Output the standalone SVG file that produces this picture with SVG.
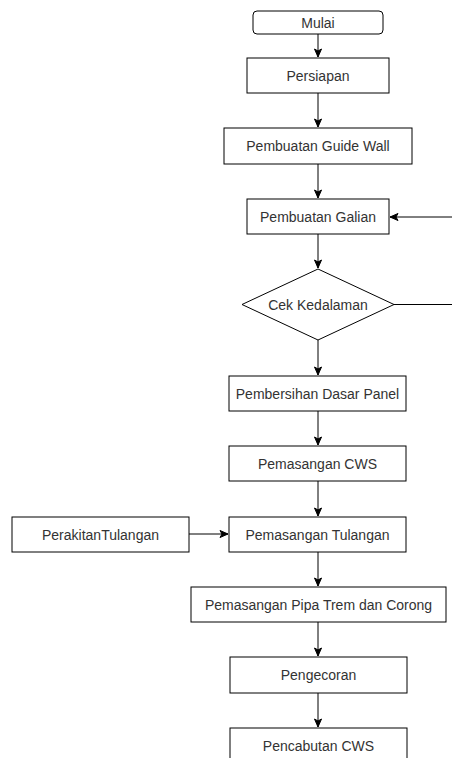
<svg xmlns="http://www.w3.org/2000/svg" width="452" height="758" viewBox="0 0 452 758">
<style>
.box{fill:#fff;stroke:#000;stroke-width:1}
.t{font-family:"Liberation Sans",Arial,sans-serif;font-size:14px;fill:#333;text-anchor:middle;dominant-baseline:central}
.c{fill:none;stroke:#000;stroke-width:1}
</style>
<defs>
<marker id="a" markerWidth="10" markerHeight="10" viewBox="0 0 10 10" refX="9" refY="5" orient="auto" markerUnits="userSpaceOnUse">
<path d="M1,1.5 L9,5 L1,8.5 L3,5 Z" fill="#000" stroke="#000" stroke-width="1"/>
</marker>
</defs>
<rect width="452" height="758" fill="#fff"/>
<g id="connectors">
<path class="c" d="M318,34 V57" marker-end="url(#a)"/>
<path class="c" d="M318,93 V127" marker-end="url(#a)"/>
<path class="c" d="M318,164 V198" marker-end="url(#a)"/>
<path class="c" d="M318,234 V268" marker-end="url(#a)"/>
<path class="c" d="M318,340 V375" marker-end="url(#a)"/>
<path class="c" d="M318,411 V445" marker-end="url(#a)"/>
<path class="c" d="M318,481 V516" marker-end="url(#a)"/>
<path class="c" d="M318,552 V586" marker-end="url(#a)"/>
<path class="c" d="M318,622 V656" marker-end="url(#a)"/>
<path class="c" d="M318,693 V727" marker-end="url(#a)"/>
<path class="c" d="M189,534 H228" marker-end="url(#a)"/>
<path class="c" d="M452,217 H390" marker-end="url(#a)"/>
<path class="c" d="M394,304.5 H452"/>
</g>
<g id="mulai"><rect class="box" x="253" y="11" width="130" height="23" rx="4"/><text class="t" x="318" y="22.5">Mulai</text></g>
<g id="persiapan"><rect class="box" x="247" y="58" width="142" height="35"/><text class="t" x="318" y="75.5">Persiapan</text></g>
<g id="guidewall"><rect class="box" x="224" y="128" width="188" height="36"/><text class="t" x="318" y="146">Pembuatan Guide Wall</text></g>
<g id="galian"><rect class="box" x="247" y="199" width="142" height="35"/><text class="t" x="318" y="216.5">Pembuatan Galian</text></g>
<g id="cek"><path class="box" d="M318,269 L394,304.5 L318,340 L242,304.5 Z"/><text class="t" x="318" y="304.5">Cek Kedalaman</text></g>
<g id="pembersihan"><rect class="box" x="229" y="376" width="177" height="35"/><text class="t" x="317.5" y="393.5">Pembersihan Dasar Panel</text></g>
<g id="cws"><rect class="box" x="229" y="446" width="177" height="35"/><text class="t" x="317.5" y="463.5">Pemasangan CWS</text></g>
<g id="tulangan"><rect class="box" x="229" y="517" width="177" height="35"/><text class="t" x="317.5" y="534.5">Pemasangan Tulangan</text></g>
<g id="perakitan"><rect class="box" x="12" y="517" width="177" height="35"/><text class="t" x="100.5" y="534.5">PerakitanTulangan</text></g>
<g id="pipa"><rect class="box" x="191" y="587" width="255" height="35"/><text class="t" x="318.5" y="604.5">Pemasangan Pipa Trem dan Corong</text></g>
<g id="pengecoran"><rect class="box" x="230" y="657" width="177" height="36"/><text class="t" x="318.5" y="675">Pengecoran</text></g>
<g id="pencabutan"><rect class="box" x="230" y="728" width="177" height="40"/><text class="t" x="318.5" y="746">Pencabutan CWS</text></g>
</svg>
